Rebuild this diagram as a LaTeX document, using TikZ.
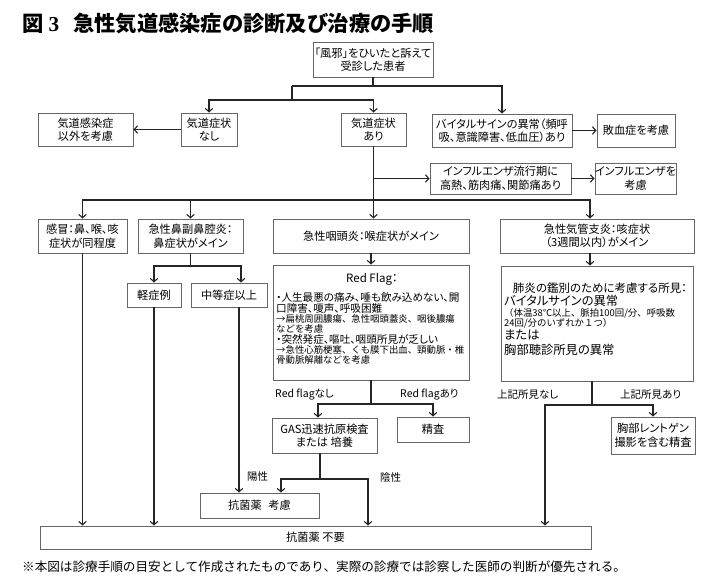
\documentclass[tikz,border=0pt]{standalone}
\usepackage{fontspec}
\setmainfont{Noto Sans CJK JP}
\newfontfamily\jp{Noto Sans CJK JP}[RawFeature=+palt]
\newfontfamily\jpw{Noto Sans CJK JP}
\newfontfamily\ser{Liberation Serif}
\usetikzlibrary{arrows.meta}
\begin{document}
\begin{tikzpicture}[x=1pt,y=-1pt,
 box/.style={draw=black!60, line width=0.8pt, inner sep=0pt, align=center, font=\jp\fontsize{11.2}{13.5}\selectfont},
 lbl/.style={inner sep=0pt, anchor=west, font=\jp\fontsize{10.5}{12}\selectfont},
 ln/.style={draw=black!85, line width=1.1pt},
 arr/.style={ln, -{Straight Barb[length=3.5pt,width=7.5pt]}},
 big/.style={inner sep=0pt, anchor=west, font=\jp\fontsize{10.6}{12}\selectfont},
 sml/.style={inner sep=0pt, anchor=west, font=\jpw\fontsize{9.4}{10}\selectfont},
 pbig/.style={inner sep=0pt, anchor=west, font=\jp\fontsize{12.3}{13}\selectfont},
]
\fill[white] (0,0) rectangle (725,588);
\useasboundingbox (0,0) rectangle (725,588);

% title
\node[inner sep=0pt, anchor=west, font=\fontsize{21.3}{24}\selectfont] (title) at (22,23)
  {{\jp\bfseries 図}\hspace{5pt}{\ser\bfseries 3}\hspace{14pt}{\jp\bfseries 急性気道感染症の診断及び治療の手順}};

% boxes
\node[box, minimum width=120pt, minimum height=35pt] (top) at (373,59.5) {「風邪」をひいたと訴えて\\受診した患者};
\node[box, minimum width=95pt, minimum height=33pt] (other) at (85.5,129.5) {気道感染症\\以外を考慮};
\node[box, minimum width=56pt, minimum height=33pt] (nosym) at (209,129.5) {気道症状\\なし};
\node[box, minimum width=65pt, minimum height=33pt] (sym) at (373.5,129.5) {気道症状\\あり};
\node[box, minimum width=140pt, minimum height=33pt] (vital) at (502,130.5) {バイタルサインの異常（頻呼\\吸、意識障害、低血圧）あり};
\node[box, minimum width=78pt, minimum height=33pt] (sepsis) at (636,130.5) {敗血症を考慮};
\node[box, minimum width=141pt, minimum height=31pt] (flu) at (500.5,178.5) {インフルエンザ流行期に\\高熱、筋肉痛、関節痛あり};
\node[box, minimum width=79pt, minimum height=31pt] (fluc) at (635.5,178.5) {インフルエンザを\\考慮};
\node[box, minimum width=89pt, minimum height=34pt] (cold) at (82.5,236) {感冒：鼻、喉、咳\\症状が同程度};
\node[box, minimum width=105pt, minimum height=34pt] (sinus) at (190.5,236) {急性鼻副鼻腔炎：\\鼻症状がメイン};
\node[box, minimum width=196pt, minimum height=34pt] (phar) at (371,236) {急性咽頭炎：喉症状がメイン};
\node[box, minimum width=194pt, minimum height=34pt] (bron) at (597,236) {急性気管支炎：咳症状\\（3週間以内）がメイン};
\node[box, minimum width=54pt, minimum height=24pt] (mild) at (154,295) {軽症例};
\node[box, minimum width=76pt, minimum height=24pt] (mod) at (229,295) {中等症以上};
\node[box, minimum width=196pt, minimum height=115pt] (redflag) at (371,322.5) {};
\node[box, minimum width=192pt, minimum height=115pt] (pneu) at (597,323.5) {};
\node[box, minimum width=105pt, minimum height=35pt] (gas) at (324.5,435.5) {GAS迅速抗原検査\\または 培養};
\node[box, minimum width=72pt, minimum height=25pt] (exam) at (433,429.5) {精査};
\node[box, minimum width=84pt, minimum height=37pt] (xray) at (653,435.5) {胸部レントゲン\\撮影を含む精査};
\node[box, minimum width=119pt, minimum height=25pt] (abx) at (259.5,505.5) {抗菌薬\hspace{0.6em}考慮};
\node[box, minimum width=551pt, minimum height=23pt] (noabx) at (315.5,537.5) {抗菌薬 不要};

% Red Flag contents
\node[inner sep=0pt, font=\jp\fontsize{11.5}{13}\selectfont] (rft) at (372,279) {Red Flag：};
\node[big] (rf1) at (276,297) {・人生最悪の痛み、唾も飲み込めない、開};
\node[big] (rf2) at (276,308) {口障害、嗄声、呼吸困難};
\node[sml] (rf3) at (276,319) {→扁桃周囲膿瘍、急性咽頭蓋炎、咽後膿瘍};
\node[sml] (rf4) at (276,329) {などを考慮};
\node[big] (rf5) at (276,339.5) {・突然発症、嘔吐、咽頭所見が乏しい};
\node[sml] (rf6) at (276,350) {→急性心筋梗塞、くも膜下出血、頸動脈・椎};
\node[sml] (rf7) at (276,360) {骨動脈解離などを考慮};

% pneumonia contents
\node[inner sep=0pt, font=\jp\fontsize{11.5}{13}\selectfont] (pnt) at (600,288) {肺炎の鑑別のために考慮する所見：};
\node[pbig] (pn1) at (504,301) {バイタルサインの異常};
\node[sml] (pn2) at (504,313) {（体温38℃以上、脈拍100回/分、呼吸数};
\node[sml] (pn3) at (504,323) {24回/分のいずれか１つ）};
\node[pbig] (pn4) at (504,335) {または};
\node[pbig] (pn5) at (504,350) {胸部聴診所見の異常};

% labels
\node[lbl] (lrfn) at (275,395) {Red flagなし};
\node[lbl] (lrfa) at (400,395) {Red flagあり};
\node[lbl] (lfn) at (497,395) {上記所見なし};
\node[lbl] (lfa) at (620,395) {上記所見あり};
\node[lbl] (lpos) at (247,477) {陽性};
\node[lbl] (lneg) at (380,478) {陰性};

% footnote
\node[inner sep=0pt, anchor=west, font=\jpw\fontsize{12.6}{14}\selectfont] (foot) at (22,567)
  {※本図は診療手順の目安として作成されたものであり、実際の診療では診察した医師の判断が優先される。};

% junctions
\coordinate (ja) at (292,86);
\coordinate (jb) at (292,100);
\coordinate (jc) at (82.5,200);
\coordinate (jd) at (154,266);
\coordinate (je) at (318,404);
\coordinate (jf) at (281,479);
\coordinate (jg) at (545,405);

% connectors
\draw[ln] (top.south) |- (ja);
\draw[arr] (top.south |- ja) -| (vital.north);
\draw[ln] (ja) -- (jb);
\draw[arr] (jb) -| (nosym.north);
\draw[arr] (jb) -| (sym.north);
\draw[arr] (nosym.west) -- (other.east);
\draw[arr] (vital.east) -- (sepsis.west);

\draw[arr] (sym.south) -- (sym.south |- phar.north);
\draw[arr] (sym.south |- flu.west) -- (flu.west);
\draw[arr] (flu.east) -- (fluc.west);
\draw[arr] (sym.south |- jc) -| (cold.north);
\draw[arr] (sym.south |- jc) -| (sinus.north);
\draw[arr] (sym.south |- jc) -| ([xshift=-7pt]bron.north);

\draw[ln] (sinus.south) -- (sinus.south |- jd);
\draw[arr] (sinus.south |- jd) -| (mild.north);
\draw[arr] (sinus.south |- jd) -| ([xshift=12pt]mod.north);

\draw[arr] (phar.south) -- (redflag.north);
\draw[arr] ([xshift=-7pt]bron.south) -- ([xshift=-7pt]bron.south |- pneu.north);

\draw[arr] (cold.south) -- (cold.south |- noabx.north);
\draw[arr] (mild.south) -- (mild.south |- noabx.north);
\draw[arr] ([xshift=10pt]mod.south) -- ([xshift=10pt]mod.south |- abx.north);

\draw[ln] (redflag.south) -- (redflag.south |- je);
\draw[arr] (redflag.south |- je) -| ([xshift=-6.5pt]gas.north);
\draw[arr] (redflag.south |- je) -| (exam.north);

\draw[ln] ([xshift=-4.5pt]gas.south) -- ([xshift=-4.5pt]gas.south |- jf);
\draw[arr] ([xshift=-4.5pt]gas.south |- jf) -| ([xshift=21.5pt]abx.north);
\draw[arr] ([xshift=-4.5pt]gas.south |- jf) -| ([xshift=52.5pt]noabx.north);

\draw[ln] ([xshift=-5pt]pneu.south) -- ([xshift=-5pt]pneu.south |- jg);
\draw[arr] ([xshift=-5pt]pneu.south |- jg) -| (xray.north);
\draw[arr] ([xshift=-5pt]pneu.south |- jg) -| ([xshift=229.5pt]noabx.north);
\end{tikzpicture}
\end{document}
